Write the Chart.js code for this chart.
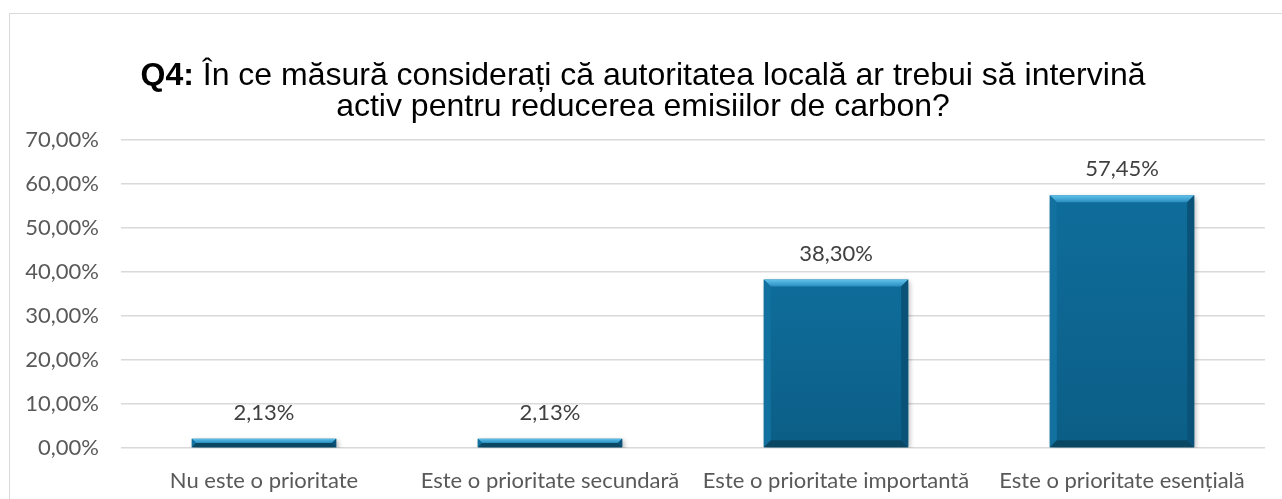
<!DOCTYPE html>
<html>
<head>
<meta charset="utf-8">
<script src="https://cdn.jsdelivr.net/npm/chart.js@4/dist/chart.umd.min.js"></script>
<style>
  html, body { margin: 0; padding: 0; background: #fff; overflow: hidden; }
  #frame { position: absolute; left: 9px; top: 13px; width: 1300px; height: 520px; border: 1px solid #d9d9d9; }
  #wrap { position: absolute; left: 0; top: 0; width: 1282px; height: 499px; }
</style>
</head>
<body>
<div id="frame"></div>
<div id="wrap"><canvas id="chart"></canvas></div>
<script>
const categories = [
  "Nu este o prioritate",
  "Este o prioritate secundară",
  "Este o prioritate importantă",
  "Este o prioritate esențială",
];
const shares = [0.0213, 0.0213, 0.383, 0.5745];
const titleBold = "Q4:";
const titleLine1 = " În ce măsură considerați că autoritatea locală ar trebui să intervină";
const titleLine2 = "activ pentru reducerea emisiilor de carbon?";

const barColor = "#0d6895";
const labelFamily = "Lato, 'Open Sans', sans-serif";
const labelSize = 22;

function pct(v, digits) {
  return (v * 100).toFixed(digits).replace(".", ",") + "%";
}

// two-line title, "Q4:" in bold
const titlePlugin = {
  id: "titleText",
  afterDraw(chart) {
    const ctx = chart.ctx;
    const cx = 643;
    ctx.save();
    ctx.fillStyle = "#000";
    ctx.textBaseline = "middle";
    const bold = "bold 32px 'Liberation Sans', Arial, sans-serif";
    const normal = "32px 'Liberation Sans', Arial, sans-serif";
    ctx.font = bold;
    const wb = ctx.measureText(titleBold).width;
    ctx.font = normal;
    const wn = ctx.measureText(titleLine1).width;
    const x = cx - (wb + wn) / 2;
    ctx.textAlign = "left";
    ctx.font = bold;
    ctx.fillText(titleBold, x, 76);
    ctx.font = normal;
    ctx.fillText(titleLine1, x + wb, 76);
    ctx.textAlign = "center";
    ctx.fillText(titleLine2, cx, 107);
    ctx.restore();
  },
};

// shadow under bars
const shadowPlugin = {
  id: "barShadow",
  beforeDatasetsDraw(chart) {
    const ctx = chart.ctx;
    ctx.save();
    ctx.shadowColor = "rgba(0,0,0,0.3)";
    ctx.shadowBlur = 5;
    ctx.shadowOffsetX = 2;
    ctx.shadowOffsetY = 2;
  },
  afterDatasetsDraw(chart) {
    chart.ctx.restore();
  },
};

// bevel edges + value labels
const bevelPlugin = {
  id: "bevel",
  afterDatasetsDraw(chart) {
    const ctx = chart.ctx;
    const meta = chart.getDatasetMeta(0);
    ctx.save();
    meta.data.forEach((bar, i) => {
      const l = bar.x - bar.width / 2;
      const r = bar.x + bar.width / 2;
      const t = bar.y;
      const b = bar.base;
      const h = b - t;
      const d = Math.min(7, h / 2);

      // body shading
      let g = ctx.createLinearGradient(0, t, 0, b);
      g.addColorStop(0, "#0f6d9b");
      g.addColorStop(1, "#0b5e86");
      ctx.fillStyle = g;
      ctx.fillRect(l + d, t + d, r - l - 2 * d, h - 2 * d);

      // top
      g = ctx.createLinearGradient(0, t, 0, t + d);
      g.addColorStop(0, "#62c3ec");
      g.addColorStop(1, "#2a8ebf");
      ctx.fillStyle = g;
      ctx.beginPath();
      ctx.moveTo(l, t); ctx.lineTo(r, t); ctx.lineTo(r - d, t + d); ctx.lineTo(l + d, t + d);
      ctx.closePath(); ctx.fill();

      // left
      ctx.fillStyle = "#13719f";
      ctx.beginPath();
      ctx.moveTo(l, t); ctx.lineTo(l + d, t + d); ctx.lineTo(l + d, b - d); ctx.lineTo(l, b);
      ctx.closePath(); ctx.fill();

      // right
      ctx.fillStyle = "#0a5277";
      ctx.beginPath();
      ctx.moveTo(r, t); ctx.lineTo(r - d, t + d); ctx.lineTo(r - d, b - d); ctx.lineTo(r, b);
      ctx.closePath(); ctx.fill();

      // bottom
      ctx.fillStyle = "#094763";
      ctx.beginPath();
      ctx.moveTo(l, b); ctx.lineTo(l + d, b - d); ctx.lineTo(r - d, b - d); ctx.lineTo(r, b);
      ctx.closePath(); ctx.fill();

      // value label
      ctx.fillStyle = "#404040";
      ctx.font = labelSize + "px " + labelFamily;
      ctx.textAlign = "center";
      ctx.textBaseline = "middle";
      ctx.fillText(pct(shares[i], 2), bar.x, t - 26);
    });
    ctx.restore();
  },
};

new Chart(document.getElementById("chart"), {
  type: "bar",
  data: {
    labels: categories,
    datasets: [
      {
        data: shares,
        backgroundColor: barColor,
        borderWidth: 0,
        barPercentage: 0.505,
        categoryPercentage: 1,
      },
    ],
  },
  options: {
    responsive: true,
    maintainAspectRatio: false,
    animation: false,
    layout: { padding: { top: 140, right: 17, left: 0, bottom: 0 } },
    plugins: {
      legend: { display: false },
      tooltip: { enabled: false },
    },
    scales: {
      x: {
        grid: { display: false },
        border: { display: false },
        ticks: {
          color: "#595959",
          font: { family: labelFamily, size: labelSize },
          maxRotation: 0,
          autoSkip: false,
          padding: 12,
        },
        afterFit(scale) { scale.height = 51; },
      },
      y: {
        min: 0,
        max: 0.7,
        border: { display: false },
        grid: { color: "#d9d9d9", lineWidth: 1.5, drawTicks: false },
        ticks: {
          stepSize: 0.1,
          color: "#595959",
          font: { family: labelFamily, size: labelSize },
          padding: 22,
          callback: (v) => pct(v, 2),
        },
        afterFit(scale) { scale.width = 121; },
      },
    },
  },
  plugins: [titlePlugin, shadowPlugin, bevelPlugin],
});
</script>
</body>
</html>
